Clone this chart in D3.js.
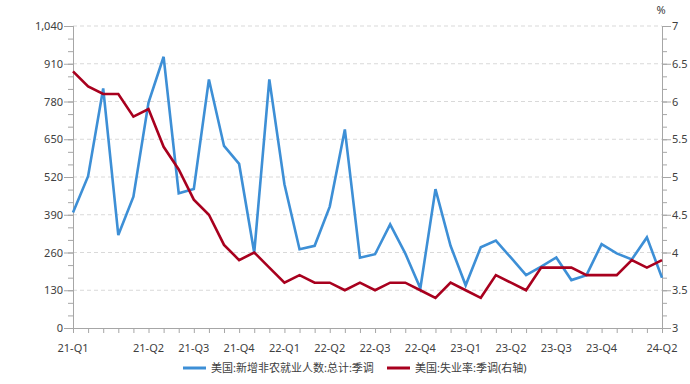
<!DOCTYPE html>
<html>
<head>
<meta charset="utf-8">
<script src="https://cdn.jsdelivr.net/npm/d3@7"></script>
<style>
  body { margin: 0; background: #fff; }
  text { font-family: "Noto Sans", "Noto Sans CJK SC", sans-serif; }
</style>
</head>
<body>
<script>
// monthly, Jan 2021 .. Apr 2024
var months = d3.range(40);
var payrolls = [398, 523, 825, 320, 452, 776, 934, 464, 479, 856,
                627, 565, 259, 856, 495, 271, 283, 418, 684, 242,
                254, 357, 257, 137, 478, 283, 147, 278, 301, 242,
                182, 211, 243, 165, 182, 289, 257, 236, 312, 173];
var unemp = [6.4, 6.2, 6.1, 6.1, 5.8, 5.9, 5.4, 5.1, 4.7, 4.5,
             4.1, 3.9, 4.0, 3.8, 3.6, 3.7, 3.6, 3.6, 3.5, 3.6,
             3.5, 3.6, 3.6, 3.5, 3.4, 3.6, 3.5, 3.4, 3.7, 3.6,
             3.5, 3.8, 3.8, 3.8, 3.7, 3.7, 3.7, 3.9, 3.8, 3.9];
var xLabels = [[0, "21-Q1"], [5, "21-Q2"], [8, "21-Q3"], [11, "21-Q4"], [14, "22-Q1"],
               [17, "22-Q2"], [20, "22-Q3"], [23, "22-Q4"], [26, "23-Q1"], [29, "23-Q2"],
               [32, "23-Q3"], [35, "23-Q4"], [39, "24-Q2"]];
var leftTicks = [0, 130, 260, 390, 520, 650, 780, 910, 1040];
var rightTicks = [3, 3.5, 4, 4.5, 5, 5.5, 6, 6.5, 7];
var seriesNames = ["美国:新增非农就业人数:总计:季调", "美国:失业率:季调(右轴)"];

var blue = "#3D8FD6", red = "#A8001E", axisColor = "#a6a6a6", txt = "#404040";

var margin = {top: 26, right: 28, bottom: 56, left: 73};
var width = 690 - margin.left - margin.right;
var height = 384 - margin.top - margin.bottom;

var svg = d3.select("body").append("svg")
    .attr("width", 690)
    .attr("height", 384);
var graph = svg.append("g")
    .attr("transform", "translate(" + margin.left + "," + margin.top + ")");

var x = d3.scaleLinear().domain([0, 39]).range([0, width]);
var yL = d3.scaleLinear().domain([0, 1040]).range([height, 0]);
var yR = d3.scaleLinear().domain([3, 7]).range([height, 0]);

// gridlines
graph.append("g").selectAll("line")
    .data(leftTicks.slice(1))
    .enter().append("line")
    .attr("x1", 0).attr("x2", width)
    .attr("y1", d => yL(d)).attr("y2", d => yL(d))
    .attr("stroke", "#d9d9d9")
    .attr("stroke-dasharray", "4,3");

// left axis: major + minor ticks
var leftMinor = d3.range(0, 1040.1, 130 / 3);
var leftAxis = graph.append("g");
leftAxis.call(d3.axisLeft(yL).tickValues(leftMinor).tickSize(5).tickFormat(""));
leftAxis.append("g").call(d3.axisLeft(yL).tickValues(leftTicks).tickSize(9).tickPadding(1).tickFormat(d3.format(",")));

var rightMinor = d3.range(3, 7.001, 0.5 / 3);
var rightAxis = graph.append("g").attr("transform", "translate(" + width + ",0)");
rightAxis.call(d3.axisRight(yR).tickValues(rightMinor).tickSize(5).tickFormat(""));
rightAxis.append("g").call(d3.axisRight(yR).tickValues(rightTicks).tickSize(9).tickPadding(1).tickFormat(d3.format("")));

var bottomAxis = graph.append("g").attr("transform", "translate(0," + height + ")");
bottomAxis.call(d3.axisBottom(x).tickValues(months).tickSize(5).tickFormat(""));
bottomAxis.append("g").selectAll("text")
    .data(xLabels)
    .enter().append("text")
    .attr("x", d => x(d[0]))
    .attr("y", 24)
    .attr("text-anchor", "middle")
    .attr("fill", txt)
    .attr("font-size", "11px")
    .text(d => d[1]);

graph.selectAll(".domain, .tick line").attr("stroke", axisColor);
graph.selectAll(".tick text").attr("fill", txt).attr("font-size", "11px");

svg.append("text")
    .attr("x", 661).attr("y", 14)
    .attr("text-anchor", "middle")
    .attr("fill", txt)
    .attr("font-size", "11px")
    .text("%");

// lines
var lineL = d3.line().x((d, i) => x(i)).y(d => yL(d));
var lineR = d3.line().x((d, i) => x(i)).y(d => yR(d));

graph.append("path")
    .datum(payrolls)
    .attr("fill", "none")
    .attr("stroke", blue)
    .attr("stroke-width", 2.6)
    .attr("stroke-linejoin", "miter")
    .attr("d", lineL);

graph.append("path")
    .datum(unemp)
    .attr("fill", "none")
    .attr("stroke", red)
    .attr("stroke-width", 2.6)
    .attr("d", lineR);

// legend
var legend = svg.append("g").attr("transform", "translate(0,368)");
var items = [{x: 183, c: blue, t: seriesNames[0]}, {x: 387, c: red, t: seriesNames[1]}];
items.forEach(function(it) {
    legend.append("line")
        .attr("x1", it.x).attr("x2", it.x + 23)
        .attr("y1", 0).attr("y2", 0)
        .attr("stroke", it.c)
        .attr("stroke-width", 3);
    legend.append("text")
        .attr("x", it.x + 28).attr("y", 4)
        .attr("fill", txt)
        .attr("font-size", "11px")
        .text(it.t);
});
</script>
</body>
</html>
